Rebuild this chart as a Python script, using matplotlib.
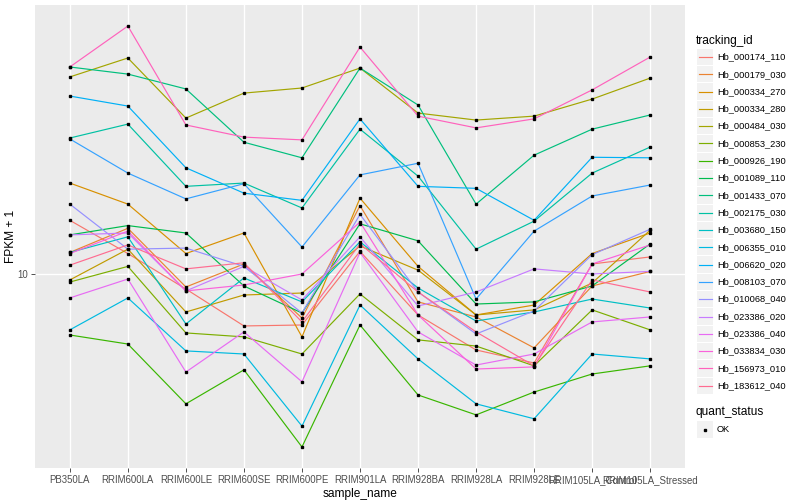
import matplotlib
matplotlib.use('Agg')
import matplotlib.pyplot as plt
from matplotlib.patches import Rectangle
from matplotlib.lines import Line2D
import numpy as np

plt.rcParams['font.family'] = ['Liberation Sans', 'DejaVu Sans']

samples = ['PB350LA', 'RRIM600LA', 'RRIM600LE', 'RRIM600SE', 'RRIM600PE',
           'RRIM901LA', 'RRIM928BA', 'RRIM928LA', 'RRIM928LE',
           'RRIM105LA_Control', 'RRIM105LA_Stressed']

tracking_ids = ['Hb_000174_110', 'Hb_000179_030', 'Hb_000334_270', 'Hb_000334_280',
                'Hb_000484_030', 'Hb_000853_230', 'Hb_000926_190', 'Hb_001089_110',
                'Hb_001433_070', 'Hb_002175_030', 'Hb_003680_150', 'Hb_006355_010',
                'Hb_006620_020', 'Hb_008103_070', 'Hb_010068_040', 'Hb_023386_020',
                'Hb_023386_040', 'Hb_033834_030', 'Hb_156973_010', 'Hb_183612_040']

colors = ['#F8766D', '#EA8331', '#D89000', '#C09B00', '#A3A500', '#7CAE00', '#39B600',
          '#00BB4E', '#00BF7D', '#00C1A3', '#00BFC4', '#00BAE0', '#00B0F6', '#35A2FF',
          '#9590FF', '#C77CFF', '#E76BF3', '#FA62DB', '#FF62BC', '#FF6C91']

# FPKM + 1 values per sample (same order as samples)
hb_000174_110 = [15.1, 11.7, 8.91, 6.71, 6.76, 11.9, 7.30, 5.58, 5.05, 10.8, 11.4]
hb_000179_030 = [11.8, 14.2, 9.05, 10.8, 7.13, 16.9, 8.07, 7.19, 5.67, 9.12, 10.2]
hb_000334_270 = [20.1, 17.1, 11.7, 13.7, 6.17, 17.9, 10.6, 7.30, 7.88, 11.7, 13.7]
hb_000334_280 = [9.55, 12.1, 7.47, 8.51, 8.64, 12.4, 10.3, 7.30, 7.59, 9.33, 14.0]
hb_000484_030 = [45.4, 52.5, 33.1, 40.1, 41.7, 48.6, 34.4, 32.6, 33.6, 38.3, 45.0]
hb_000853_230 = [9.40, 10.6, 6.36, 6.17, 5.41, 8.58, 6.03, 5.75, 4.94, 7.59, 6.51]
hb_000926_190 = [6.26, 5.84, 3.69, 4.79, 2.65, 6.76, 3.95, 3.39, 4.04, 4.64, 4.94]
hb_001089_110 = [13.5, 14.5, 13.7, 9.12, 7.41, 14.7, 12.9, 7.94, 8.07, 9.12, 12.6]
hb_001433_070 = [49.0, 46.4, 41.4, 27.5, 24.4, 48.6, 36.6, 17.1, 24.9, 30.4, 33.9]
hb_002175_030 = [28.4, 31.6, 19.6, 20.1, 16.6, 30.4, 21.2, 12.1, 15.0, 21.7, 26.5]
hb_003680_150 = [11.8, 13.3, 6.81, 9.70, 8.07, 12.8, 8.98, 6.97, 7.47, 8.25, 7.70]
hb_006355_010 = [6.51, 8.32, 5.54, 5.41, 3.11, 7.88, 5.21, 3.69, 3.29, 5.41, 5.21]
hb_006620_020 = [39.2, 36.3, 22.6, 18.6, 17.6, 32.9, 19.6, 19.3, 15.1, 24.5, 24.4]
hb_008103_070 = [28.2, 21.7, 17.8, 20.0, 12.3, 21.4, 23.4, 8.25, 13.9, 18.2, 19.8]
hb_010068_040 = [17.1, 12.1, 12.2, 10.6, 7.41, 15.8, 8.71, 6.31, 7.53, 11.6, 14.1]
hb_023386_020 = [13.5, 13.7, 8.78, 10.6, 8.19, 13.3, 7.82, 8.71, 10.4, 10.0, 10.2]
hb_023386_040 = [8.32, 9.62, 4.71, 6.41, 4.37, 11.8, 6.41, 4.97, 5.41, 6.92, 7.19]
hb_033834_030 = [11.7, 13.9, 8.78, 9.19, 10.0, 14.9, 7.30, 4.82, 4.90, 10.8, 12.5]
hb_156973_010 = [49.0, 67.1, 31.4, 28.6, 28.0, 57.1, 33.6, 30.7, 32.9, 41.1, 52.9]
hb_183612_040 = [10.7, 12.5, 10.4, 10.9, 6.92, 12.6, 8.71, 6.41, 4.94, 9.55, 8.71]

series = [hb_000174_110, hb_000179_030, hb_000334_270, hb_000334_280, hb_000484_030,
          hb_000853_230, hb_000926_190, hb_001089_110, hb_001433_070, hb_002175_030,
          hb_003680_150, hb_006355_010, hb_006620_020, hb_008103_070, hb_010068_040,
          hb_023386_020, hb_023386_040, hb_033834_030, hb_156973_010, hb_183612_040]

W, H = 800, 500
fig = plt.figure(figsize=(8, 5), dpi=100)
ax = fig.add_axes([35 / W, 1 - 468 / H, 650 / W, 463 / H])
ax.set_facecolor('#EBEBEB')
for s in ax.spines.values():
    s.set_visible(False)

x = np.arange(len(samples))
for vals, c in zip(series, colors):
    ax.plot(x, vals, color=c, lw=0.85, zorder=3, solid_capstyle='butt')
for vals in series:
    ax.plot(x, vals, ls='none', marker='s', ms=2.1, color='black', zorder=4)

ax.set_yscale('log')
allv = np.log10(np.concatenate([np.asarray(v) for v in series]))
lo, hi = allv.min(), allv.max()
pad = (hi - lo) * 0.05
ax.set_ylim(10 ** (lo - pad), 10 ** (hi + pad))
ax.set_xlim(-0.6, len(samples) - 1 + 0.6)
ax.set_yticks([10])
ax.set_yticklabels(['10'])
ax.yaxis.set_minor_locator(matplotlib.ticker.NullLocator())
ax.set_xticks(x)
ax.set_xticklabels(samples)
ax.grid(True, which='major', color='white', lw=1.0, zorder=0)
ax.set_axisbelow(True)
ax.tick_params(axis='both', which='major', length=3, width=0.6, color='#333333',
               labelsize=6.9, labelcolor='#4D4D4D', pad=2)
ax.set_xlabel('sample_name', fontsize=8.6, labelpad=2)
ax.set_ylabel('FPKM + 1', fontsize=8.6)
ax.yaxis.set_label_coords((17 - 35) / 650, 0.5)

# Legend (ggplot style)
def fy(py):
    return 1 - py / H

def fx(px):
    return px / W

fig.text(fx(696), fy(41), 'tracking_id', fontsize=8.6, va='center', ha='left')
step = 17.3
for i, (name, c) in enumerate(zip(tracking_ids, colors)):
    cy = 57 + i * step
    fig.add_artist(Rectangle((fx(697), fy(cy + step / 2 - 0.5)), 16 / W, (step - 1) / H,
                             transform=fig.transFigure, facecolor='#F2F2F2', edgecolor='none'))
    fig.add_artist(Line2D([fx(699), fx(712)], [fy(cy), fy(cy)], transform=fig.transFigure,
                          color=c, lw=0.85))
    fig.text(fx(717), fy(cy), name, fontsize=6.7, va='center', ha='left')

fig.text(fx(696), fy(412), 'quant_status', fontsize=8.6, va='center', ha='left')
cy = 429.5
fig.add_artist(Rectangle((fx(697), fy(cy + step / 2 - 0.5)), 16 / W, (step - 1) / H,
                         transform=fig.transFigure, facecolor='#F2F2F2', edgecolor='none'))
fig.add_artist(Line2D([fx(705)], [fy(cy)], transform=fig.transFigure, ls='none',
                      marker='s', ms=2.1, color='black'))
fig.text(fx(717), fy(cy), 'OK', fontsize=6.7, va='center', ha='left')

fig.savefig('out.png', dpi=100, facecolor='white')
